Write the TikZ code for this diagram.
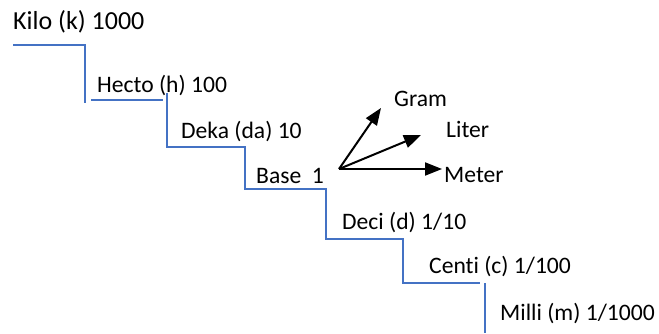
\documentclass[tikz,border=0pt]{standalone}
\usepackage{fontspec}
\setmainfont{Carlito}[Ligatures={NoCommon}]
\usetikzlibrary{arrows.meta}
\definecolor{stairblue}{RGB}{68,114,196}
\tikzset{
  lbl/.style={anchor=base west, inner sep=0pt, font=\fontsize{23.6}{28}\selectfont},
  biglbl/.style={anchor=base west, inner sep=0pt, font=\fontsize{26}{31}\selectfont},
  stair/.style={draw=stairblue, line width=1.6pt},
  unitarrow/.style={draw=black, line width=2pt, -{Triangle[length=17pt,width=13pt]}}
}
\begin{document}
\begin{tikzpicture}[x=1pt,y=-1pt]
\useasboundingbox (0,0) rectangle (659,333);
% labels
\node[biglbl] (kilo) at (13,29) {Kilo (k) 1000};
\node[lbl] (hecto) at (97,92) {Hecto (h) 100};
\node[lbl] (deka) at (181,138) {Deka (da) 10};
\node[lbl] (base) at (256,183) {Base\ \ 1};
\node[lbl] (deci) at (342,229) {Deci (d) 1/10};
\node[lbl] (centi) at (429,273) {Centi (c) 1/100};
\node[lbl] (milli) at (500,320) {Milli (m) 1/1000};
\node[lbl] (gram) at (394,106) {Gram};
\node[lbl] (liter) at (446,137) {Liter};
\node[lbl] (meter) at (444,182) {Meter};
% stairs
\draw[stair] (13,45) -- (85,45) -- (85,103);
\draw[stair] (91,100) -- (163,100);
\draw[stair] (167,93) -- (167,147) -- (245,147) -- (245,189) -- (326,189)
  -- (326,239) -- (403,239) -- (403,283) -- (480,283);
\draw[stair] (485,283) -- (485,333);
% arrows
\coordinate (o) at (339,169);
\coordinate (tg) at (381,108);
\coordinate (tl) at (421,135);
\coordinate (tm) at (442,169);
\draw[unitarrow] (o) -- (tg);
\draw[unitarrow] (o) -- (tl);
\draw[unitarrow] (o) -- (tm);
\end{tikzpicture}
\end{document}
